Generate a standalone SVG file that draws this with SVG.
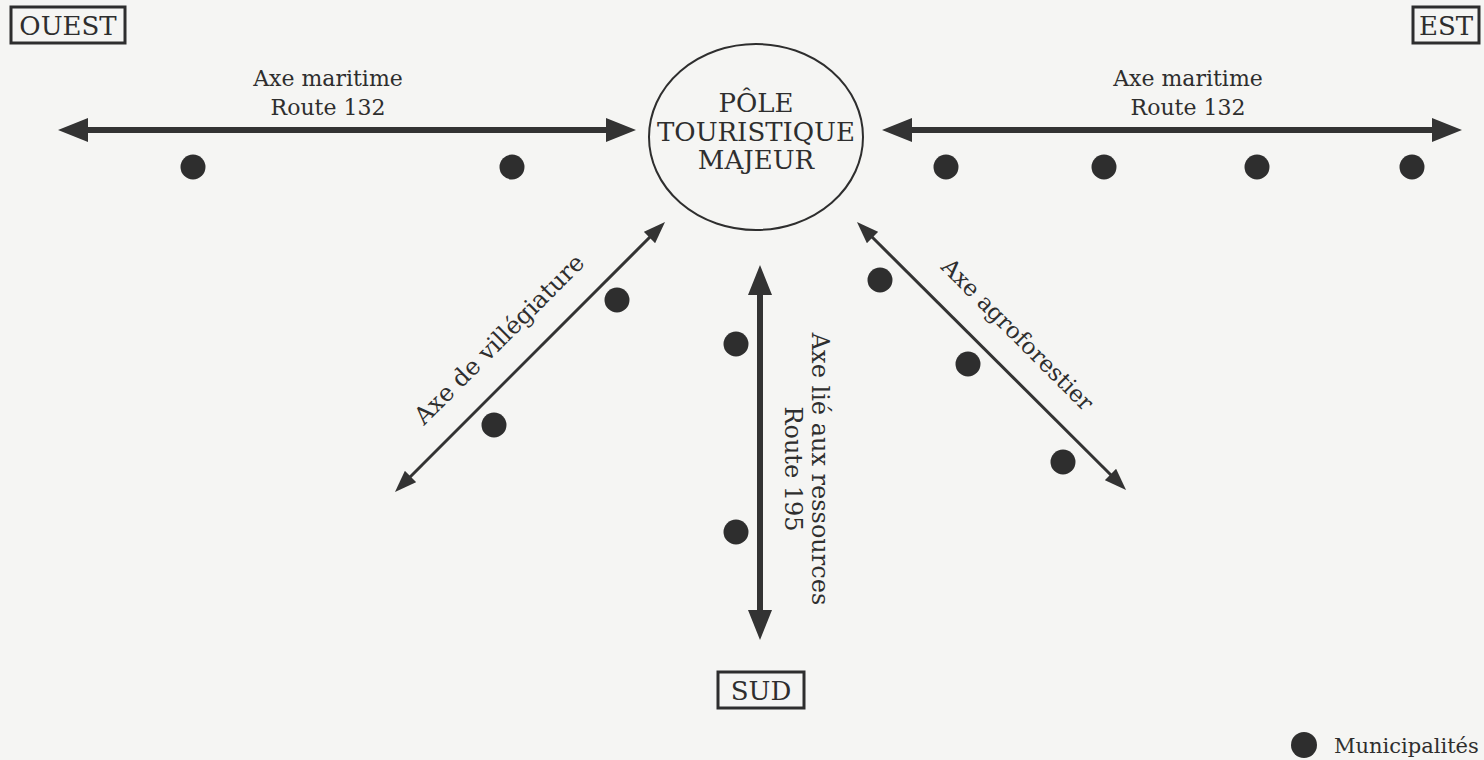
<svg xmlns="http://www.w3.org/2000/svg" width="1484" height="760" viewBox="0 0 1484 760">
<defs>
<style>
.t{font-family:"DejaVu Serif","Liberation Serif",serif;fill:#2e2e2e;text-anchor:middle}
.s22{font-size:22px}
.s23{font-size:23px}
.s24{font-size:24px}
.s26{font-size:26px}
.box{fill:none;stroke:#2e2e2e;stroke-width:3}
.thick{stroke:#333;stroke-width:6;fill:none}
.thin{stroke:#333;stroke-width:3;fill:none}
.dot{fill:#2e2e2e}
</style>
<marker id="bigHead" viewBox="0 0 30 24" markerWidth="30" markerHeight="24" refX="8" refY="12" orient="auto-start-reverse" markerUnits="userSpaceOnUse">
<path d="M0,0 L30,12 L0,24 Z" fill="#333"/>
</marker>
<marker id="smallHead" viewBox="0 0 22 16" markerWidth="22" markerHeight="16" refX="6" refY="8" orient="auto-start-reverse" markerUnits="userSpaceOnUse">
<path d="M0,0 L22,8 L0,16 Z" fill="#333"/>
</marker>
</defs>
<rect width="1484" height="760" fill="#f5f5f3"/>

<g id="connectors">
<line class="thick" x1="80" y1="130" x2="614" y2="130" marker-start="url(#bigHead)" marker-end="url(#bigHead)"/>
<line class="thick" x1="904" y1="130" x2="1440" y2="130" marker-start="url(#bigHead)" marker-end="url(#bigHead)"/>
<line class="thick" x1="760" y1="287" x2="760" y2="618" marker-start="url(#bigHead)" marker-end="url(#bigHead)"/>
<line class="thin" x1="406.3" y1="480.7" x2="653.7" y2="233.3" marker-start="url(#smallHead)" marker-end="url(#smallHead)"/>
<line class="thin" x1="868.3" y1="233.3" x2="1114.7" y2="478.7" marker-start="url(#smallHead)" marker-end="url(#smallHead)"/>
</g>

<g id="pole">
<ellipse cx="756" cy="137" rx="107" ry="93" fill="none" stroke="#2e2e2e" stroke-width="2"/>
<text class="t s26" x="756" y="112">PÔLE</text>
<text class="t s26" x="756" y="141">TOURISTIQUE</text>
<text class="t s26" x="756" y="169">MAJEUR</text>
</g>

<g id="ouest">
<rect class="box" x="11" y="7" width="114" height="36"/>
<text class="t s26" x="68" y="35">OUEST</text>
</g>
<g id="est">
<rect class="box" x="1413" y="7" width="66" height="36"/>
<text class="t s26" x="1446" y="35">EST</text>
</g>
<g id="sud">
<rect class="box" x="718" y="672" width="86" height="36"/>
<text class="t s26" x="761" y="700">SUD</text>
</g>

<g id="label-ouest">
<text class="t s22" x="328" y="86">Axe maritime</text>
<text class="t s22" x="328" y="115">Route 132</text>
</g>
<g id="label-est">
<text class="t s22" x="1188" y="86">Axe maritime</text>
<text class="t s22" x="1188" y="115">Route 132</text>
</g>
<g id="label-villegiature">
<text class="t s24" transform="translate(505,345) rotate(-45)">Axe de villégiature</text>
</g>
<g id="label-agro">
<text class="t s23" transform="translate(1012,340) rotate(45)">Axe agroforestier</text>
</g>
<g id="label-sud">
<text class="t s24" transform="translate(812,469) rotate(90)">Axe lié aux ressources</text>
<text class="t s24" transform="translate(785,469) rotate(90)">Route 195</text>
</g>

<g id="municipalites">
<circle class="dot" cx="193" cy="167" r="12.5"/>
<circle class="dot" cx="512" cy="167" r="12.5"/>
<circle class="dot" cx="946" cy="167" r="12.5"/>
<circle class="dot" cx="1104" cy="167" r="12.5"/>
<circle class="dot" cx="1257" cy="167" r="12.5"/>
<circle class="dot" cx="1412" cy="167" r="12.5"/>
<circle class="dot" cx="617" cy="300" r="12.5"/>
<circle class="dot" cx="494" cy="425" r="12.5"/>
<circle class="dot" cx="736" cy="344" r="12.5"/>
<circle class="dot" cx="736" cy="532" r="12.5"/>
<circle class="dot" cx="880" cy="280" r="12.5"/>
<circle class="dot" cx="968" cy="364" r="12.5"/>
<circle class="dot" cx="1063" cy="462" r="12.5"/>
</g>

<g id="legend">
<circle class="dot" cx="1304" cy="745" r="13"/>
<text x="1334" y="753" style="font-family:'DejaVu Serif','Liberation Serif',serif;font-size:21px;fill:#2e2e2e">Municipalités</text>
</g>
</svg>
